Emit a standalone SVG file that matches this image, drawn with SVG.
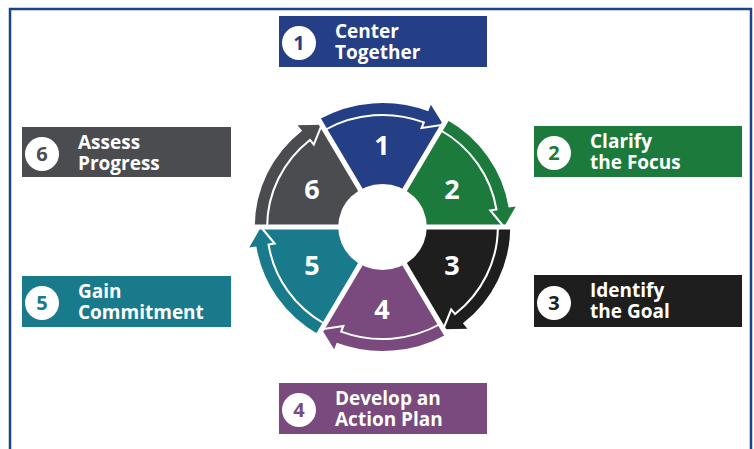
<svg xmlns="http://www.w3.org/2000/svg" xmlns:xlink="http://www.w3.org/1999/xlink" width="754" height="449" viewBox="0 0 754 449">
<defs>
<style>
.lbl{font-family:"Open Sans","Liberation Sans",sans-serif;font-weight:700;font-size:19px;fill:#ffffff}
.num{font-family:"Open Sans","Liberation Sans",sans-serif;font-weight:700;font-size:20px;text-anchor:middle}
.wn{font-family:"Open Sans","Liberation Sans",sans-serif;font-weight:700;font-size:27px;fill:#ffffff;text-anchor:middle}
.gap{stroke:#ffffff;stroke-width:5;fill:none}
.wl{stroke:#ffffff;stroke-width:2;fill:none;stroke-linejoin:miter}
</style>
<path id="seg" d="M0,0 L-62,-107.39 A124,124 0 0 1 44.44,-115.76 L46.95,-122.3 L59,-102.19 Z"/>
<path id="segline" d="M-56,-97 A112,112 0 0 1 40.14,-104.56 L37.99,-98.96 L59,-102.19"/>
</defs>
<rect x="0" y="0" width="754" height="449" fill="#ffffff"/>
<rect x="10" y="9" width="741" height="470" fill="none" stroke="#1c4589" stroke-width="2.5"/>

<g id="wheel" transform="translate(382.5,227) scale(1.03,1)">
<g id="seg1"><use xlink:href="#seg" fill="#243f85"/><use xlink:href="#segline" class="wl"/></g>
<g id="seg2" transform="rotate(60)"><use xlink:href="#seg" fill="#1b7a3c"/><use xlink:href="#segline" class="wl"/></g>
<g id="seg3" transform="rotate(120)"><use xlink:href="#seg" fill="#1e1e1e"/><use xlink:href="#segline" class="wl"/></g>
<g id="seg4" transform="rotate(180)"><use xlink:href="#seg" fill="#7a4a7e"/><use xlink:href="#segline" class="wl"/></g>
<g id="seg5" transform="rotate(240)"><use xlink:href="#seg" fill="#187a8b"/><use xlink:href="#segline" class="wl"/></g>
<g id="seg6" transform="rotate(300)"><use xlink:href="#seg" fill="#4a4c4f"/><use xlink:href="#segline" class="wl"/></g>
<g id="gaps">
<line class="gap" x1="0" y1="0" x2="-68" y2="-117.8"/>
<line class="gap" x1="0" y1="0" x2="68" y2="-117.8"/>
<line class="gap" x1="0" y1="0" x2="136" y2="0"/>
<line class="gap" x1="0" y1="0" x2="68" y2="117.8"/>
<line class="gap" x1="0" y1="0" x2="-68" y2="117.8"/>
<line class="gap" x1="0" y1="0" x2="-136" y2="0"/>
</g>
<circle cx="0" cy="0" r="43" fill="#ffffff"/>
</g>
<g id="wheel-numbers">
<text class="wn" x="382" y="155">1</text>
<text class="wn" x="452" y="199">2</text>
<text class="wn" x="452" y="275">3</text>
<text class="wn" x="382" y="319">4</text>
<text class="wn" x="312" y="275">5</text>
<text class="wn" x="312" y="199">6</text>
</g>

<g id="step1">
<rect x="279" y="16" width="208" height="51" fill="#243f85"/>
<circle cx="299" cy="43" r="17" fill="#ffffff"/>
<text class="num" x="299" y="50" fill="#243f85">1</text>
<text class="lbl" x="335" y="38">Center</text>
<text class="lbl" x="335" y="59">Together</text>
</g>
<g id="step2">
<rect x="534" y="126" width="208" height="51" fill="#1b7a3c"/>
<circle cx="554" cy="153" r="17" fill="#ffffff"/>
<text class="num" x="554" y="160" fill="#1b7a3c">2</text>
<text class="lbl" x="590" y="148">Clarify</text>
<text class="lbl" x="590" y="169">the Focus</text>
</g>
<g id="step3">
<rect x="534" y="275" width="208" height="52" fill="#1e1e1e"/>
<circle cx="554" cy="303" r="17" fill="#ffffff"/>
<text class="num" x="554" y="310" fill="#1e1e1e">3</text>
<text class="lbl" x="590" y="297">Identify</text>
<text class="lbl" x="590" y="318">the Goal</text>
</g>
<g id="step4">
<rect x="279" y="383" width="208" height="51" fill="#7a4a7e"/>
<circle cx="299" cy="410" r="17" fill="#ffffff"/>
<text class="num" x="299" y="417" fill="#7a4a7e">4</text>
<text class="lbl" x="335" y="405">Develop an</text>
<text class="lbl" x="335" y="426">Action Plan</text>
</g>
<g id="step5">
<rect x="22" y="276" width="209" height="51" fill="#187a8b"/>
<circle cx="42" cy="303" r="17" fill="#ffffff"/>
<text class="num" x="42" y="310" fill="#187a8b">5</text>
<text class="lbl" x="78" y="298">Gain</text>
<text class="lbl" x="78" y="319">Commitment</text>
</g>
<g id="step6">
<rect x="22" y="127" width="209" height="50" fill="#4a4c4f"/>
<circle cx="42" cy="154" r="17" fill="#ffffff"/>
<text class="num" x="42" y="161" fill="#4a4c4f">6</text>
<text class="lbl" x="78" y="149">Assess</text>
<text class="lbl" x="78" y="170">Progress</text>
</g>
</svg>
